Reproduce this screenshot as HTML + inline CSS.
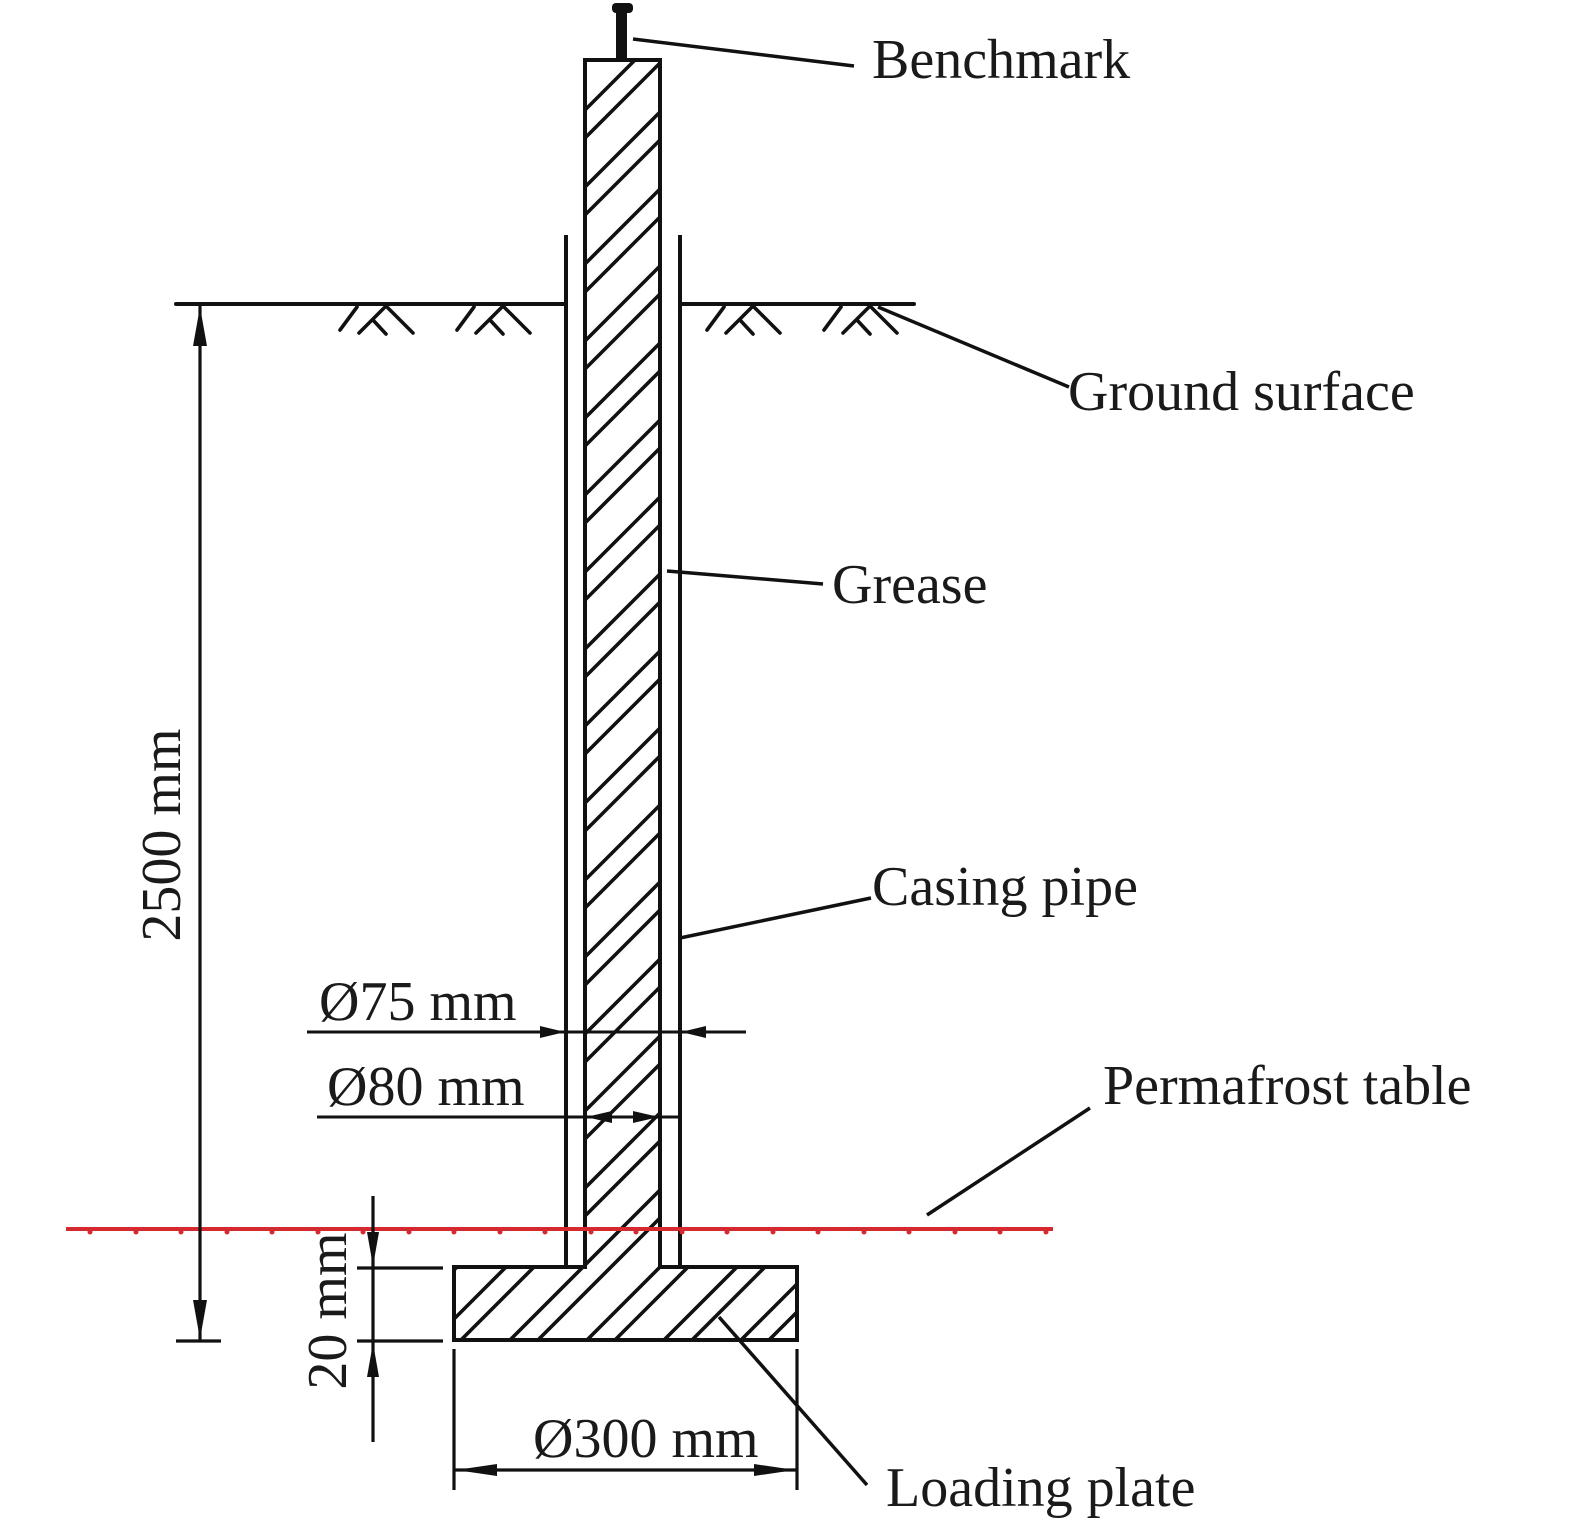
<!DOCTYPE html>
<html>
<head>
<meta charset="utf-8">
<style>
html,body{margin:0;padding:0;background:#fff;}
svg{display:block;}
text{font-family:"Liberation Serif","DejaVu Serif",serif;font-size:56px;fill:#1a1a1a;}
</style>
</head>
<body>
<svg width="1575" height="1528" viewBox="0 0 1575 1528" xmlns="http://www.w3.org/2000/svg">
<defs>
<clipPath id="tclip">
<polygon points="585,60 660,60 660,1267 797,1267 797,1340 454,1340 454,1267 585,1267"/>
</clipPath>
</defs>

<!-- Hatching -->
<g clip-path="url(#tclip)" stroke="#111" stroke-width="3.6" fill="none">
<path d="
M-650 1345 L640 55 M-622 1345 L668 55
M-573 1345 L717 55 M-545 1345 L745 55
M-496 1345 L794 55 M-468 1345 L822 55
M-419 1345 L871 55 M-391 1345 L899 55
M-342 1345 L948 55 M-314 1345 L976 55
M-265 1345 L1025 55 M-237 1345 L1053 55
M-188 1345 L1102 55 M-160 1345 L1130 55
M-111 1345 L1179 55 M-83 1345 L1207 55
M-34 1345 L1256 55 M-6 1345 L1284 55
M43 1345 L1333 55 M71 1345 L1361 55
M120 1345 L1410 55 M148 1345 L1438 55
M197 1345 L1487 55 M225 1345 L1515 55
M274 1345 L1564 55 M302 1345 L1592 55
M351 1345 L1641 55 M379 1345 L1669 55
M428 1345 L1718 55 M456 1345 L1746 55
M505 1345 L1795 55 M533 1345 L1823 55
M582 1345 L1872 55 M610 1345 L1900 55
M659 1345 L1949 55 M687 1345 L1977 55
M736 1345 L2026 55 M764 1345 L2054 55
"/>
</g>

<!-- T outline (rod + loading plate) -->
<polygon points="585,60 660,60 660,1267 797,1267 797,1340 454,1340 454,1267 585,1267" fill="none" stroke="#111" stroke-width="4"/>

<!-- Benchmark -->
<rect x="616" y="10" width="11" height="51" fill="#111"/>
<rect x="612" y="3" width="21" height="10" rx="4" fill="#111"/>

<!-- Casing pipe -->
<line x1="566" y1="235" x2="566" y2="1267" stroke="#111" stroke-width="4"/>
<line x1="680" y1="235" x2="680" y2="1267" stroke="#111" stroke-width="4"/>

<!-- Ground surface -->
<g stroke="#111" stroke-width="4" fill="none" stroke-linecap="round">
<line x1="176" y1="304" x2="566" y2="304"/>
<line x1="680" y1="304" x2="914" y2="304"/>
</g>
<g stroke="#111" stroke-width="3.6" fill="none" stroke-linecap="round">
<g transform="translate(338,304)">
<path d="M2 26 L19 3 M21 29 L48 2 L75 29 M35 16 L48 30"/>
</g>
<g transform="translate(455,304)">
<path d="M2 26 L19 3 M21 29 L48 2 L75 29 M35 16 L48 30"/>
</g>
<g transform="translate(705,304)">
<path d="M2 26 L19 3 M21 29 L48 2 L75 29 M35 16 L48 30"/>
</g>
<g transform="translate(822,304)">
<path d="M2 26 L19 3 M21 29 L48 2 L75 29 M35 16 L48 30"/>
</g>
</g>

<!-- Permafrost table (red) -->
<line x1="66" y1="1229" x2="1053" y2="1229" stroke="#d42a2f" stroke-width="4"/>
<g fill="#d42a2f">
<circle cx="90" cy="1232" r="2.5"/><circle cx="136" cy="1232" r="2.5"/><circle cx="181" cy="1232" r="2.5"/>
<circle cx="227" cy="1232" r="2.5"/><circle cx="272" cy="1232" r="2.5"/><circle cx="318" cy="1232" r="2.5"/>
<circle cx="363" cy="1232" r="2.5"/><circle cx="409" cy="1232" r="2.5"/><circle cx="454" cy="1232" r="2.5"/>
<circle cx="500" cy="1232" r="2.5"/><circle cx="545" cy="1232" r="2.5"/><circle cx="591" cy="1232" r="2.5"/>
<circle cx="636" cy="1232" r="2.5"/><circle cx="682" cy="1232" r="2.5"/><circle cx="727" cy="1232" r="2.5"/>
<circle cx="773" cy="1232" r="2.5"/><circle cx="818" cy="1232" r="2.5"/><circle cx="864" cy="1232" r="2.5"/>
<circle cx="909" cy="1232" r="2.5"/><circle cx="955" cy="1232" r="2.5"/><circle cx="1000" cy="1232" r="2.5"/>
<circle cx="1046" cy="1232" r="2.5"/>
</g>

<!-- Leaders -->
<g stroke="#111" stroke-width="3.5" fill="none">
<line x1="633" y1="39" x2="854" y2="66"/>
<line x1="878" y1="307" x2="1069" y2="387"/>
<line x1="667" y1="571" x2="823" y2="584"/>
<line x1="680" y1="938" x2="871" y2="898"/>
<line x1="927" y1="1215" x2="1090" y2="1108"/>
<line x1="719" y1="1317" x2="867" y2="1485"/>
</g>

<!-- 2500 mm dimension -->
<g stroke="#111" stroke-width="3.2" fill="none">
<line x1="200" y1="306" x2="200" y2="1341"/>
<line x1="176" y1="1341" x2="221" y2="1341"/>
</g>
<polygon points="200,307 193,346 207,346" fill="#111"/>
<polygon points="200,1339 193,1300 207,1300" fill="#111"/>
<text transform="translate(180,835) rotate(-90)" text-anchor="middle">2500 mm</text>

<!-- 20 mm dimension -->
<g stroke="#111" stroke-width="3.2" fill="none">
<line x1="373" y1="1196" x2="373" y2="1442"/>
<line x1="357" y1="1268" x2="443" y2="1268"/>
<line x1="357" y1="1341" x2="443" y2="1341"/>
</g>
<polygon points="373,1266 367,1232 379,1232" fill="#111"/>
<polygon points="373,1343 367,1377 379,1377" fill="#111"/>
<text transform="translate(346,1311) rotate(-90)" text-anchor="middle">20 mm</text>

<!-- Ø300 mm dimension -->
<g stroke="#111" stroke-width="3.2" fill="none">
<line x1="454" y1="1349" x2="454" y2="1490"/>
<line x1="797" y1="1349" x2="797" y2="1490"/>
<line x1="454" y1="1470" x2="797" y2="1470"/>
</g>
<polygon points="456,1470 497,1464 497,1476" fill="#111"/>
<polygon points="795,1470 754,1464 754,1476" fill="#111"/>
<text x="533" y="1457">Ø300 mm</text>

<!-- Ø75 mm dimension -->
<line x1="307" y1="1032" x2="746" y2="1032" stroke="#111" stroke-width="3"/>
<polygon points="565,1032 540,1026 540,1038" fill="#111"/>
<polygon points="681,1032 706,1026 706,1038" fill="#111"/>
<text x="319" y="1020">Ø75 mm</text>

<!-- Ø80 mm dimension -->
<line x1="317" y1="1117" x2="680" y2="1117" stroke="#111" stroke-width="3"/>
<polygon points="586,1117 612,1111 612,1123" fill="#111"/>
<polygon points="659,1117 633,1111 633,1123" fill="#111"/>
<text x="327" y="1105">Ø80 mm</text>

<!-- Labels -->
<text x="872" y="78">Benchmark</text>
<text x="1068" y="410">Ground surface</text>
<text x="832" y="603">Grease</text>
<text x="872" y="905">Casing pipe</text>
<text x="1103" y="1104">Permafrost table</text>
<text x="886" y="1506">Loading plate</text>
</svg>
</body>
</html>
